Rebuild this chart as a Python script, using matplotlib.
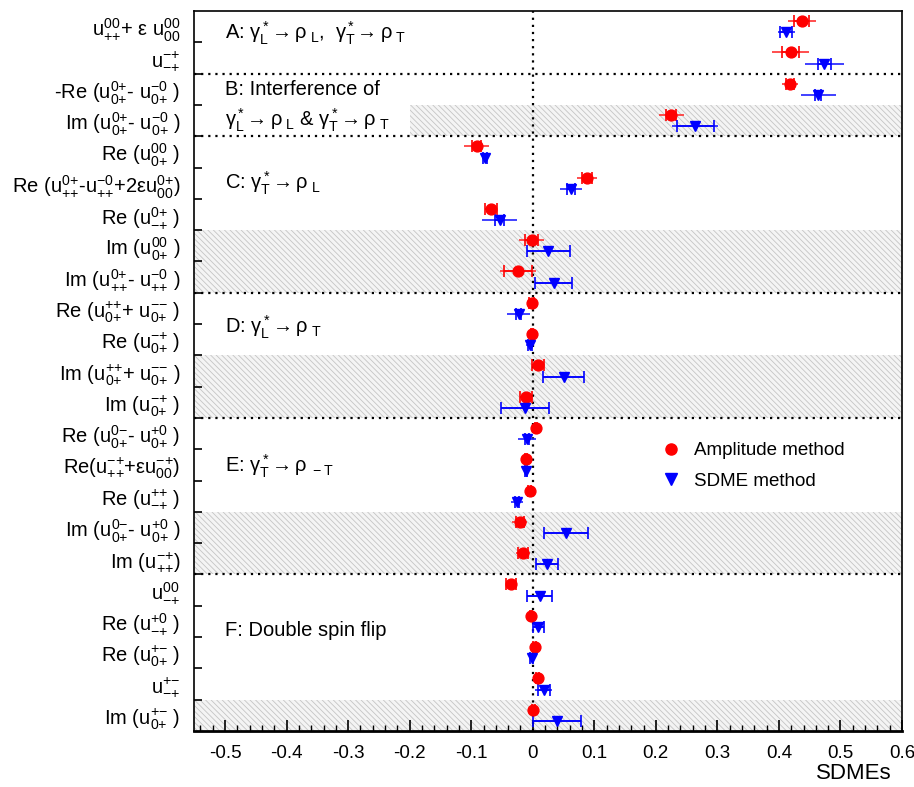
import matplotlib
matplotlib.use("Agg")
import matplotlib.pyplot as plt
from matplotlib.patches import Rectangle
from matplotlib.lines import Line2D
import numpy as np

plt.rcParams['font.family'] = ['Liberation Sans', 'DejaVu Sans']
plt.rcParams['mathtext.fontset'] = 'custom'
plt.rcParams['mathtext.rm'] = 'Liberation Sans'
plt.rcParams['mathtext.it'] = 'Liberation Sans'
plt.rcParams['mathtext.bf'] = 'Liberation Sans:bold'
plt.rcParams['mathtext.sf'] = 'Liberation Sans'
plt.rcParams['mathtext.default'] = 'regular'
plt.rcParams['hatch.linewidth'] = 0.6


def u(sup, sub):
    f = lambda s: ''.join('{%s}' % c if c in '+-' else c for c in s)
    return r'$u^{%s}_{%s}$' % (f(sup), f(sub))


labels = [
    u('00', '++') + '+ ε ' + u('00', '00'),
    u('-+', '-+'),
    '-Re (' + u('0+', '0+') + '- ' + u('-0', '0+') + ' )',
    'Im (' + u('0+', '0+') + '- ' + u('-0', '0+') + ' )',
    'Re (' + u('00', '0+') + ' )',
    'Re (' + u('0+', '++') + '-' + u('-0', '++') + '+2ε' + u('0+', '00') + ')',
    'Re (' + u('0+', '-+') + ' )',
    'Im (' + u('00', '0+') + ' )',
    'Im (' + u('0+', '++') + '- ' + u('-0', '++') + ' )',
    'Re (' + u('++', '0+') + '+ ' + u('--', '0+') + ' )',
    'Re (' + u('-+', '0+') + ' )',
    'Im (' + u('++', '0+') + '+ ' + u('--', '0+') + ' )',
    'Im (' + u('-+', '0+') + ' )',
    'Re (' + u('0-', '0+') + '- ' + u('+0', '0+') + ' )',
    'Re(' + u('-+', '++') + '+ε' + u('-+', '00') + ')',
    'Re (' + u('++', '-+') + ' )',
    'Im (' + u('0-', '0+') + '- ' + u('+0', '0+') + ' )',
    'Im (' + u('-+', '++') + ')',
    u('00', '-+'),
    'Re (' + u('+0', '-+') + ' )',
    'Re (' + u('+-', '0+') + ' )',
    u('+-', '-+'),
    'Im (' + u('+-', '0+') + ' )',
]

# Amplitude method: value, stat error, total error
amp_val = [0.437, 0.419, 0.418, 0.225, -0.091, 0.088, -0.068, -0.002, -0.024,
           -0.002, -0.001, 0.009, -0.011, 0.005, -0.011, -0.005, -0.021, -0.016,
           -0.036, -0.003, 0.003, 0.008, 0.001]
amp_stat = [0.012, 0.014, 0.006, 0.008, 0.007, 0.008, 0.010, 0.010, 0.023,
            0.004, 0.002, 0.010, 0.010, 0.002, 0.002, 0.002, 0.006, 0.008,
            0.008, 0.002, 0.002, 0.002, 0.002]
amp_tot = [0.023, 0.030, 0.013, 0.020, 0.020, 0.016, 0.010, 0.020, 0.030,
           0.006, 0.003, 0.010, 0.010, 0.003, 0.003, 0.003, 0.012, 0.011,
           0.008, 0.003, 0.003, 0.003, 0.003]

# SDME method
sdme_val = [0.412, 0.474, 0.464, 0.264, -0.078, 0.062, -0.054, 0.025, 0.034,
            -0.023, -0.005, 0.050, -0.012, -0.009, -0.011, -0.026, 0.054, 0.023,
            0.011, 0.009, -0.002, 0.018, 0.039]
sdme_stat = [0.010, 0.011, 0.005, 0.030, 0.003, 0.006, 0.008, 0.035, 0.030,
             0.004, 0.003, 0.034, 0.039, 0.003, 0.002, 0.003, 0.035, 0.018,
             0.020, 0.009, 0.002, 0.010, 0.039]
sdme_tot = [0.014, 0.031, 0.028, 0.037, 0.005, 0.018, 0.028, 0.035, 0.030,
            0.019, 0.006, 0.034, 0.039, 0.015, 0.003, 0.010, 0.035, 0.018,
            0.020, 0.009, 0.003, 0.014, 0.039]

separators = [1.5, 3.5, 8.5, 12.5, 17.5]
shaded_rows = [3, 7, 8, 11, 12, 16, 17, 22]

n = len(labels)
rows = np.arange(n)

fig = plt.figure(figsize=(9.14, 7.87), dpi=100)
ax = fig.add_axes([0.2126, 0.0712, 0.7743, 0.9148])
ax.set_xlim(-0.55, 0.6)
ax.set_ylim(n - 0.5, -0.5)

for r in shaded_rows:
    x0 = -0.2 if r == 3 else -0.55
    ax.add_patch(Rectangle((x0, r - 0.5), 0.6 - x0, 1.0, facecolor='#f4f4f4',
                           edgecolor='#c4c4c4', hatch='\\\\\\\\\\\\', lw=0, zorder=0))

ax.axvline(0, color='black', ls=(0, (1, 2.2)), lw=1.6, zorder=1)
for s in separators:
    ax.axhline(s, color='black', ls=(0, (1, 2.2)), lw=1.6, zorder=1)

off = 0.18
ya = rows - off
yb = rows + off
# total errors (lines) and stat errors (with caps)
ax.errorbar(amp_val, ya, xerr=amp_tot, fmt='none', ecolor='#ff3030', elinewidth=1.2,
            capsize=0, zorder=3)
ax.errorbar(amp_val, ya, xerr=amp_stat, fmt='o', color='red', ms=7.8, ecolor='red',
            elinewidth=1.2, capsize=4, capthick=1.2, zorder=4)
ax.errorbar(sdme_val, yb, xerr=sdme_tot, fmt='none', ecolor='#2020ff', elinewidth=1.2,
            capsize=0, zorder=3)
ax.errorbar(sdme_val, yb, xerr=sdme_stat, fmt='v', color='blue', ms=7.8, ecolor='blue',
            elinewidth=1.2, capsize=4, capthick=1.2, zorder=4)

# section labels
tx = -0.5
fs = 14.5
ax.text(tx, 0.2, r'A: $\gamma^*_L\!\rightarrow\rho_{\ L}$,  $\gamma^*_T\!\rightarrow\rho_{\ T}$',
        fontsize=fs, va='center', ha='left')
ax.text(tx, 2.0, 'B: Interference of', fontsize=fs, va='center', ha='left')
ax.text(tx, 3.0, r'$\gamma^*_L\!\rightarrow\rho_{\ L}$ & $\gamma^*_T\!\rightarrow\rho_{\ T}$',
        fontsize=fs, va='center', ha='left')
ax.text(tx, 5.0, r'C: $\gamma^*_T\!\rightarrow\rho_{\ L}$', fontsize=fs, va='center', ha='left')
ax.text(tx, 9.6, r'D: $\gamma^*_L\!\rightarrow\rho_{\ T}$', fontsize=fs, va='center', ha='left')
ax.text(tx, 14.05, r'E: $\gamma^*_T\!\rightarrow\rho_{\ -T}$', fontsize=fs, va='center', ha='left')
ax.text(tx, 19.3, 'F: Double spin flip', fontsize=fs, va='center', ha='left')

handles = [Line2D([], [], marker='o', color='red', ls='none', ms=8),
           Line2D([], [], marker='v', color='blue', ls='none', ms=8)]
ax.legend(handles, ['Amplitude method', 'SDME method'], loc='upper left',
          bbox_to_anchor=(0.634, 0.414), frameon=False, fontsize=13.5,
          handletextpad=0.2, labelspacing=0.7, borderpad=0)

# axes styling
ax.set_yticks(rows)
ax.set_yticklabels(labels, fontsize=14.5)
ax.set_yticks(np.arange(0.5, n - 1, 1.0), minor=True)
ax.tick_params(axis='y', which='major', length=0, pad=10)
ax.tick_params(axis='y', which='minor', length=6, width=1.2, direction='in')
ax.set_xticks(np.round(np.arange(-0.5, 0.61, 0.1), 2))
ax.set_xticklabels(['-0.5', '-0.4', '-0.3', '-0.2', '-0.1', '0', '0.1', '0.2', '0.3',
                    '0.4', '0.5', '0.6'], fontsize=13.5)
ax.set_xticks(np.arange(-0.54, 0.6, 0.02), minor=True)
ax.tick_params(axis='x', which='major', length=8, width=1.2, direction='in', pad=10)
ax.tick_params(axis='x', which='minor', length=4, width=1.0, direction='in')
for sp in ['top', 'right', 'left']:
    ax.spines[sp].set_linewidth(1.2)
ax.spines['bottom'].set_linewidth(2.0)

ax.set_xlabel('SDMEs', fontsize=16)
ax.xaxis.set_label_coords(0.985, -0.045)
ax.xaxis.label.set_ha('right')
ax.xaxis.label.set_va('top')

fig.savefig('out.png', dpi=100)
